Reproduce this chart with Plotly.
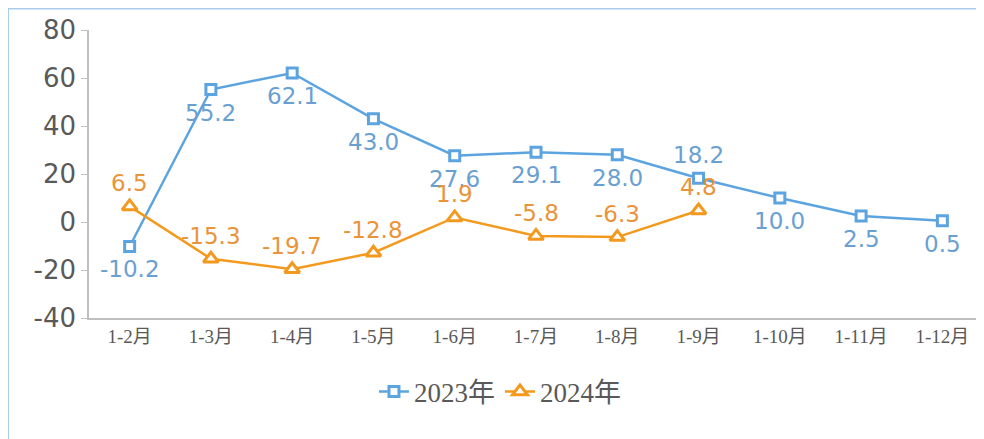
import plotly.graph_objects as go

categories = ["1-2月", "1-3月", "1-4月", "1-5月", "1-6月", "1-7月", "1-8月", "1-9月", "1-10月", "1-11月", "1-12月"]
values_2023 = [-10.2, 55.2, 62.1, 43.0, 27.6, 29.1, 28.0, 18.2, 10.0, 2.5, 0.5]
values_2024 = [6.5, -15.3, -19.7, -12.8, 1.9, -5.8, -6.3, 4.8]
label_side_2023 = [-1, -1, -1, -1, -1, -1, -1, 1, -1, -1, -1]   # 1 = above, -1 = below
label_side_2024 = [1, 1, 1, 1, 1, 1, 1, 1]
ytick_vals = [-40, -20, 0, 20, 40, 60, 80]
ytick_text = ["-40", "-20", "0", "20", "40", "60", "80"]

BLUE = "#5BA4E0"
BLUE_TXT = "#6A9FD2"
ORANGE = "#F39A1E"
ORANGE_TXT = "#E9943A"
GREY = "#595959"

# the page body adds an 8px offset; figure coordinates are compensated for it
PLOT_L, PLOT_R, PLOT_T, PLOT_B = 81.4, 974.6, 22.0, 310.0
W, H = 984, 439
PW, PH = PLOT_R - PLOT_L, PLOT_B - PLOT_T

fig = go.Figure()
fig.add_trace(go.Scatter(
    x=categories, y=values_2023, name="2023年", mode="lines+markers",
    line=dict(color=BLUE, width=2.5),
    marker=dict(symbol="square", size=10, color="white", line=dict(color=BLUE, width=3)),
    cliponaxis=False,
))
fig.add_trace(go.Scatter(
    x=categories[:len(values_2024)], y=values_2024, name="2024年", mode="lines+markers",
    line=dict(color=ORANGE, width=2.5),
    marker=dict(symbol="triangle-up", size=13, color="white", line=dict(color=ORANGE, width=3)),
    cliponaxis=False,
))

annotations = []
for cat, val, side in zip(categories, values_2023, label_side_2023):
    annotations.append(dict(x=cat, y=val, xref="x", yref="y", text=f"{val:.1f}", showarrow=False,
                            yshift=23 * side, xanchor="center", yanchor="middle",
                            font=dict(family="DejaVu Sans", size=23, color=BLUE_TXT)))
for cat, val, side in zip(categories, values_2024, label_side_2024):
    annotations.append(dict(x=cat, y=val, xref="x", yref="y", text=f"{val:.1f}", showarrow=False,
                            yshift=23 * side, xanchor="center", yanchor="middle",
                            font=dict(family="DejaVu Sans", size=23, color=ORANGE_TXT)))

fig.update_layout(
    width=W, height=H,
    margin=dict(l=PLOT_L, r=W - PLOT_R, t=PLOT_T, b=H - PLOT_B, autoexpand=False),
    paper_bgcolor="white", plot_bgcolor="white",
    showlegend=True,
    legend=dict(orientation="h", x=(492 - PLOT_L) / PW, xanchor="center",
                y=(PLOT_B - 384) / PH, yanchor="middle",
                font=dict(family="Liberation Serif, Noto Sans CJK SC", size=27, color=GREY),
                itemwidth=30, tracegroupgap=0),
    xaxis=dict(type="category", showgrid=False, showline=True, linecolor="#BFBFBF", linewidth=1.5,
               ticks="", tickfont=dict(family="Liberation Serif, Noto Sans CJK SC", size=19, color=GREY),
               range=[-0.5, 10.5], automargin=False),
    yaxis=dict(range=[-40, 80], tickvals=ytick_vals, ticktext=ytick_text, showgrid=False,
               zeroline=False, showline=True, automargin=False,
               linecolor="#BFBFBF", linewidth=1.5, ticks="outside", ticklen=6, tickcolor="#BFBFBF",
               tickfont=dict(family="DejaVu Sans", size=26, color=GREY)),
    annotations=annotations,
    shapes=[dict(type="rect", xref="paper", yref="paper",
                 x0=(0.5 - PLOT_L) / PW, x1=(1000 - PLOT_L) / PW,
                 y0=(PLOT_B - 0.5) / PH, y1=(PLOT_B - 480) / PH,
                 line=dict(color="#A9CDEE", width=2), fillcolor="rgba(0,0,0,0)", layer="below")],
)

fig.write_html("out.html")
